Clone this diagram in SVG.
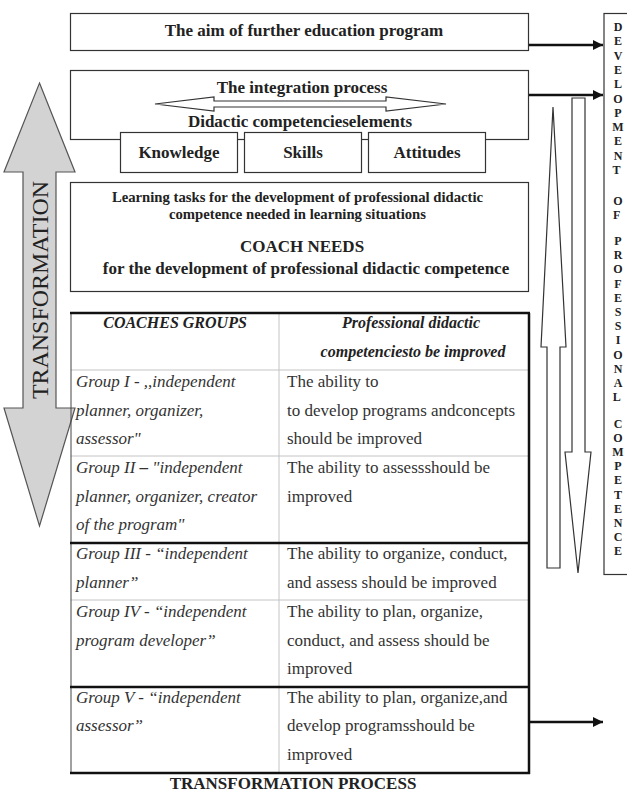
<svg xmlns="http://www.w3.org/2000/svg" width="627" height="792" viewBox="0 0 627 792">
<defs>
<style>
.box{fill:#fff;stroke:#333;stroke-width:1.2}
.b{font-family:"Liberation Serif",serif;font-weight:bold;fill:#222;text-anchor:middle}
.cell{font-family:"Liberation Serif",serif;font-size:17px;fill:#333}
.it{font-style:italic}
.hd{font-family:"Liberation Serif",serif;font-size:16px;font-weight:bold;font-style:italic;fill:#222;text-anchor:middle}
.thin{stroke:#c4c4c4;stroke-width:1}
.thick{stroke:#111;stroke-width:2.5}
.conn{stroke:#111;stroke-width:2.5;fill:none}
.hollow{fill:#fff;stroke:#333;stroke-width:1.2}
.vl{font-family:"Liberation Serif",serif;font-weight:bold;font-size:12px;fill:#222;text-anchor:middle}
</style>
<marker id="ah" viewBox="0 0 10 10" refX="10" refY="5" markerUnits="userSpaceOnUse" markerWidth="11" markerHeight="10" orient="auto">
<path d="M0,0 L10,5 L0,10 z" fill="#111"/>
</marker>
</defs>
<rect width="627" height="792" fill="#fff"/>

<g id="transformation-arrow">
<polygon points="39.5,83 75,172 56,172 56,408 75,408 39.5,526 4,408 23,408 23,172 4,172" fill="#d3d3d3" stroke="#555" stroke-width="1.2"/>
<text transform="translate(48,290) rotate(-90)" font-family="Liberation Serif, serif" font-size="24" fill="#222" text-anchor="middle" textLength="218" lengthAdjust="spacingAndGlyphs">TRANSFORMATION</text>
</g>

<g id="aim">
<rect class="box" x="70.5" y="13.5" width="458" height="37"/>
<text class="b" x="304" y="36" font-size="17">The aim of further education program</text>
</g>

<g id="integration">
<rect class="box" x="70.5" y="70.5" width="458" height="69"/>
<text class="b" x="302" y="93" font-size="17">The integration process</text>
<polygon class="hollow" points="155,104 214,97 214,101 386,101 386,97 446,104 386,111 386,107 214,107 214,111"/>
<text class="b" x="300" y="127" font-size="17">Didactic competencieselements</text>
</g>

<g id="knowledge">
<rect class="box" x="120.5" y="132.5" width="117" height="40"/>
<text class="b" x="179" y="158" font-size="17">Knowledge</text>
</g>
<g id="skills">
<rect class="box" x="244.5" y="132.5" width="117" height="40"/>
<text class="b" x="303" y="158" font-size="17">Skills</text>
</g>
<g id="attitudes">
<rect class="box" x="368.5" y="132.5" width="117" height="40"/>
<text class="b" x="427" y="158" font-size="17">Attitudes</text>
</g>

<g id="coach-needs">
<rect class="box" x="70.5" y="182.5" width="458" height="109"/>
<text class="b" x="297.5" y="202" font-size="14.7">Learning tasks  for the development of professional didactic</text>
<text class="b" x="297.5" y="219" font-size="14.7">competence needed in learning situations</text>
<text class="b" x="302" y="252" font-size="17">COACH NEEDS</text>
<text class="b" x="306" y="274" font-size="17">for the development of professional didactic competence</text>
</g>

<g id="table">
<line class="thin" x1="279" y1="313" x2="279" y2="773"/>
<line class="thin" x1="71" y1="370" x2="529" y2="370"/>
<line class="thin" x1="71" y1="456" x2="529" y2="456"/>
<line class="thin" x1="71" y1="600" x2="529" y2="600"/>
<line x1="71" y1="313" x2="71" y2="773" stroke="#444" stroke-width="1"/>
<line class="thick" x1="70" y1="313" x2="530" y2="313"/>
<line class="thick" x1="529" y1="313" x2="529" y2="774"/>
<line class="thick" x1="70" y1="543" x2="530" y2="543"/>
<line class="thick" x1="70" y1="687" x2="530" y2="687"/>
<line class="thick" x1="70" y1="773" x2="530" y2="773"/>

<text class="hd" x="175" y="328">COACHES GROUPS</text>
<text class="hd" x="411" y="328">Professional didactic</text>
<text class="hd" x="413" y="357">competenciesto be improved</text>

<g class="cell">
<text class="it" x="76" y="387">Group I - ,,independent</text>
<text class="it" x="76" y="416">planner, organizer,</text>
<text class="it" x="76" y="444">assessor"</text>
<text x="287" y="387">The ability to</text>
<text x="287" y="416">to develop programs andconcepts</text>
<text x="287" y="444">should be improved</text>

<text class="it" x="76" y="473">Group II<tspan font-style="normal" font-weight="bold"> – </tspan> "independent</text>
<text class="it" x="76" y="502">planner, organizer, creator</text>
<text class="it" x="76" y="530">of the program"</text>
<text x="287" y="473">The ability to assessshould be</text>
<text x="287" y="502">improved</text>

<text class="it" x="76" y="559">Group III - “independent</text>
<text class="it" x="76" y="588">planner”</text>
<text x="287" y="559">The ability to organize, conduct,</text>
<text x="287" y="588">and assess should be improved</text>

<text class="it" x="76" y="617">Group IV - “independent</text>
<text class="it" x="76" y="646">program developer”</text>
<text x="287" y="617">The ability to plan, organize,</text>
<text x="287" y="646">conduct, and assess should be</text>
<text x="287" y="674">improved</text>

<text class="it" x="76" y="703">Group V -  “independent</text>
<text class="it" x="76" y="731">assessor”</text>
<text x="287" y="703">The ability to plan, organize,and</text>
<text x="287" y="731">develop programsshould be</text>
<text x="287" y="760">improved</text>
</g>
<text class="b" x="293" y="789" font-size="17">TRANSFORMATION PROCESS</text>
</g>

<g id="up-arrow">
<polygon class="hollow" points="553,107 566,347 560,347 560,568 547,568 547,347 541,347"/>
</g>
<g id="down-arrow">
<polygon class="hollow" points="572,98 585,98 585,452 591,452 578,573 565,452 572,452"/>
</g>

<g id="development">
<rect class="box" x="604" y="13.5" width="40" height="561"/>
<text class="vl" x="618">
<tspan x="618" y="31">D</tspan><tspan x="618" y="45.3">E</tspan><tspan x="618" y="59.6">V</tspan><tspan x="618" y="73.9">E</tspan><tspan x="618" y="88.2">L</tspan><tspan x="618" y="102.5">O</tspan><tspan x="618" y="116.8">P</tspan><tspan x="618" y="131.1">M</tspan><tspan x="618" y="145.4">E</tspan><tspan x="618" y="159.7">N</tspan><tspan x="618" y="174">T</tspan>
<tspan x="618" y="205">O</tspan><tspan x="618" y="219">F</tspan>
<tspan x="618" y="245">P</tspan><tspan x="618" y="259.2">R</tspan><tspan x="618" y="273.4">O</tspan><tspan x="618" y="287.6">F</tspan><tspan x="618" y="301.8">E</tspan><tspan x="618" y="316">S</tspan><tspan x="618" y="330.2">S</tspan><tspan x="618" y="344.4">I</tspan><tspan x="618" y="358.6">O</tspan><tspan x="618" y="372.8">N</tspan><tspan x="618" y="387">A</tspan><tspan x="618" y="401.2">L</tspan>
<tspan x="618" y="428">C</tspan><tspan x="618" y="442.1">O</tspan><tspan x="618" y="456.2">M</tspan><tspan x="618" y="470.3">P</tspan><tspan x="618" y="484.4">E</tspan><tspan x="618" y="498.5">T</tspan><tspan x="618" y="512.6">E</tspan><tspan x="618" y="526.7">N</tspan><tspan x="618" y="540.8">C</tspan><tspan x="618" y="554.9">E</tspan>
</text>
</g>

<g id="connectors">
<line class="conn" x1="529" y1="45" x2="603" y2="45" marker-end="url(#ah)"/>
<line class="conn" x1="529" y1="95" x2="603" y2="95" marker-end="url(#ah)"/>
<line class="conn" x1="529" y1="722" x2="603" y2="722" marker-end="url(#ah)"/>
</g>
</svg>
